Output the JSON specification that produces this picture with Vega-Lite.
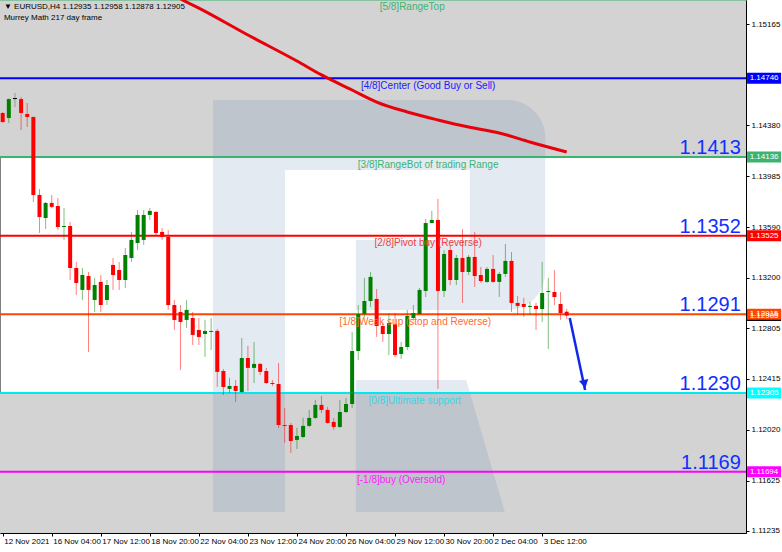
{
  "$schema": "https://vega.github.io/schema/vega-lite/v6.json",
  "width": 746,
  "height": 533,
  "autosize": {"type": "none"},
  "padding": {"left": 0, "top": 0, "right": 36, "bottom": 19},
  "background": "#ffffff",
  "config": {"font": "Liberation Sans", "view": {"stroke": "#808080", "strokeWidth": 1}, "scale": {"continuousPadding": 0}},
  "datasets": {
    "bands": [{"p": 1.14136, "p2": 1.153535}, {"p": 1.11218, "p2": 1.12305}],
    "wm": [
      {"i": 34.3, "i2": 46.05, "p": 1.14578, "p2": 1.11381},
      {"i": 46.05, "i2": 76.2, "p": 1.14578, "p2": 1.14035},
      {"i": 57.6, "i2": 76.2, "p": 1.13492, "p2": 1.12949}
    ],
    "wmleg": [
      {"p": 1.12405, "i": 57.6, "i2": 75.6},
      {"p": 1.11381, "i": 57.6, "i2": 81.9}
    ],
    "wmbowl": [{"i": 76.2, "i2": 88.5, "p": 1.14578, "p2": 1.12949}],
    "levels": [
      {"p": 1.15357, "lvl": "5/8"},
      {"p": 1.14746, "lvl": "4/8"},
      {"p": 1.14136, "lvl": "3/8"},
      {"p": 1.13525, "lvl": "2/8"},
      {"p": 1.12915, "lvl": "1/8"},
      {"p": 1.12305, "lvl": "0/8"},
      {"p": 1.11694, "lvl": "-1/8"}
    ],
    "lvltext": [
      {"i": 66.8, "p": 1.15299, "lvl": "5/8", "t": "[5/8]RangeTop"},
      {"i": 69.4, "p": 1.14686, "lvl": "4/8", "t": "[4/8]Center (Good Buy or Sell)"},
      {"i": 69.4, "p": 1.14073, "lvl": "3/8", "t": "[3/8]RangeBot of trading Range"},
      {"i": 69.4, "p": 1.13468, "lvl": "2/8", "t": "[2/8]Pivot buy (Reverse)"},
      {"i": 67.3, "p": 1.12855, "lvl": "1/8", "t": "[1/8]Weak sup (stop and Reverse)"},
      {"i": 67.2, "p": 1.12243, "lvl": "0/8", "t": "[0/8]Ultimate support"},
      {"i": 65.0, "p": 1.1163, "lvl": "-1/8", "t": "[-1/8]buy (Oversold)"}
    ],
    "bignum": [
      {"p": 1.14136, "t": "1.1413"},
      {"p": 1.13525, "t": "1.1352"},
      {"p": 1.12915, "t": "1.1291"},
      {"p": 1.12305, "t": "1.1230"},
      {"p": 1.11694, "t": "1.1169"}
    ],
    "boxes": [
      {"p": 1.12905, "t": "1.12905", "lvl": "cur"},
      {"p": 1.14746, "t": "1.14746", "lvl": "4/8"},
      {"p": 1.14136, "t": "1.14136", "lvl": "3/8"},
      {"p": 1.13525, "t": "1.13525", "lvl": "2/8"},
      {"p": 1.12915, "t": "1.12915", "lvl": "1/8"},
      {"p": 1.12305, "t": "1.12305", "lvl": "0/8"},
      {"p": 1.11694, "t": "1.11694", "lvl": "-1/8"}
    ],
    "ma": [
      {"i": 28, "p": 1.15392}, {"i": 29.5, "p": 1.1535}, {"i": 32, "p": 1.15291},
      {"i": 40, "p": 1.15082}, {"i": 48, "p": 1.1488}, {"i": 52, "p": 1.14772},
      {"i": 57, "p": 1.14655}, {"i": 61, "p": 1.14562}, {"i": 66, "p": 1.14485},
      {"i": 71, "p": 1.14423}, {"i": 76, "p": 1.14368}, {"i": 81, "p": 1.14322},
      {"i": 86, "p": 1.14252}, {"i": 92, "p": 1.14174}
    ],
    "arrow": [{"i": 92.5, "p": 1.12886}, {"i": 95.0, "p": 1.12328}],
    "arrowhead": [{"i": 94.9, "p": 1.12374}],
    "title": [
      {"i": 0.2, "p": 1.15299, "t": "▼ EURUSD,H4  1.12935 1.12958 1.12878 1.12905"},
      {"i": 0.2, "p": 1.15214, "t": "Murrey Math 217 day frame"}
    ],
    "candles": [
      {"i":0,"o":1.14477,"h":1.14485,"l":1.14399,"c":1.14407,"d":"down"},
      {"i":1,"o":1.14438,"h":1.14590,"l":1.14399,"c":1.14585,"d":"up"},
      {"i":2,"o":1.14585,"h":1.14632,"l":1.14523,"c":1.14593,"d":"doji"},
      {"i":3,"o":1.14585,"h":1.14601,"l":1.14345,"c":1.14477,"d":"down"},
      {"i":4,"o":1.14469,"h":1.14554,"l":1.14368,"c":1.14446,"d":"down"},
      {"i":5,"o":1.14446,"h":1.14450,"l":1.13786,"c":1.13841,"d":"down"},
      {"i":6,"o":1.13841,"h":1.13887,"l":1.13546,"c":1.13670,"d":"down"},
      {"i":7,"o":1.13662,"h":1.13786,"l":1.13577,"c":1.13779,"d":"up"},
      {"i":8,"o":1.13779,"h":1.13841,"l":1.13740,"c":1.13748,"d":"down"},
      {"i":9,"o":1.13755,"h":1.13817,"l":1.13569,"c":1.13592,"d":"down"},
      {"i":10,"o":1.13592,"h":1.13740,"l":1.13492,"c":1.13600,"d":"up"},
      {"i":11,"o":1.13600,"h":1.13631,"l":1.13181,"c":1.13274,"d":"down"},
      {"i":12,"o":1.13274,"h":1.13321,"l":1.13065,"c":1.13158,"d":"down"},
      {"i":13,"o":1.13104,"h":1.13274,"l":1.13026,"c":1.13220,"d":"up"},
      {"i":14,"o":1.13212,"h":1.13243,"l":1.12623,"c":1.13104,"d":"down"},
      {"i":15,"o":1.13026,"h":1.13197,"l":1.12933,"c":1.13142,"d":"up"},
      {"i":16,"o":1.13166,"h":1.13220,"l":1.12933,"c":1.12987,"d":"down"},
      {"i":17,"o":1.13026,"h":1.13181,"l":1.12987,"c":1.13142,"d":"up"},
      {"i":18,"o":1.13298,"h":1.13352,"l":1.13104,"c":1.13220,"d":"down"},
      {"i":19,"o":1.13259,"h":1.13321,"l":1.13104,"c":1.13181,"d":"down"},
      {"i":20,"o":1.13181,"h":1.13430,"l":1.13119,"c":1.13375,"d":"up"},
      {"i":21,"o":1.13352,"h":1.13554,"l":1.13321,"c":1.13492,"d":"up"},
      {"i":22,"o":1.13468,"h":1.13724,"l":1.13414,"c":1.13686,"d":"up"},
      {"i":23,"o":1.13492,"h":1.13724,"l":1.13453,"c":1.13686,"d":"up"},
      {"i":24,"o":1.13686,"h":1.13740,"l":1.13647,"c":1.13717,"d":"up"},
      {"i":25,"o":1.13709,"h":1.13717,"l":1.13523,"c":1.13546,"d":"down"},
      {"i":26,"o":1.13554,"h":1.13585,"l":1.13492,"c":1.13515,"d":"down"},
      {"i":27,"o":1.13515,"h":1.13569,"l":1.12949,"c":1.12987,"d":"down"},
      {"i":28,"o":1.12987,"h":1.13026,"l":1.12793,"c":1.12871,"d":"down"},
      {"i":29,"o":1.12933,"h":1.12987,"l":1.12483,"c":1.12855,"d":"down"},
      {"i":30,"o":1.12871,"h":1.13026,"l":1.12809,"c":1.12949,"d":"up"},
      {"i":31,"o":1.12886,"h":1.12933,"l":1.12677,"c":1.12755,"d":"down"},
      {"i":32,"o":1.12793,"h":1.12886,"l":1.12677,"c":1.12739,"d":"down"},
      {"i":33,"o":1.12762,"h":1.12871,"l":1.12584,"c":1.12786,"d":"up"},
      {"i":34,"o":1.12778,"h":1.12886,"l":1.12638,"c":1.12786,"d":"up"},
      {"i":35,"o":1.12786,"h":1.12801,"l":1.12351,"c":1.12468,"d":"down"},
      {"i":36,"o":1.12475,"h":1.12491,"l":1.12289,"c":1.12351,"d":"down"},
      {"i":37,"o":1.12336,"h":1.12421,"l":1.12305,"c":1.12359,"d":"up"},
      {"i":38,"o":1.12359,"h":1.12405,"l":1.12235,"c":1.12320,"d":"down"},
      {"i":39,"o":1.12312,"h":1.12731,"l":1.12305,"c":1.12576,"d":"up"},
      {"i":40,"o":1.12576,"h":1.12669,"l":1.12320,"c":1.12499,"d":"down"},
      {"i":41,"o":1.12499,"h":1.12700,"l":1.12382,"c":1.12530,"d":"up"},
      {"i":42,"o":1.12530,"h":1.12537,"l":1.12444,"c":1.12468,"d":"down"},
      {"i":43,"o":1.12475,"h":1.12499,"l":1.12374,"c":1.12382,"d":"down"},
      {"i":44,"o":1.12382,"h":1.12405,"l":1.12359,"c":1.12374,"d":"down"},
      {"i":45,"o":1.12374,"h":1.12537,"l":1.12033,"c":1.12056,"d":"down"},
      {"i":46,"o":1.12056,"h":1.12188,"l":1.11917,"c":1.12049,"d":"down"},
      {"i":47,"o":1.12056,"h":1.12072,"l":1.11839,"c":1.11932,"d":"down"},
      {"i":48,"o":1.11940,"h":1.12033,"l":1.11870,"c":1.11971,"d":"up"},
      {"i":49,"o":1.11963,"h":1.12111,"l":1.11956,"c":1.12049,"d":"up"},
      {"i":50,"o":1.12049,"h":1.12173,"l":1.12041,"c":1.12111,"d":"up"},
      {"i":51,"o":1.12111,"h":1.12250,"l":1.12103,"c":1.12212,"d":"up"},
      {"i":52,"o":1.12212,"h":1.12281,"l":1.12149,"c":1.12173,"d":"down"},
      {"i":53,"o":1.12173,"h":1.12196,"l":1.12068,"c":1.12072,"d":"down"},
      {"i":54,"o":1.12080,"h":1.12111,"l":1.12018,"c":1.12041,"d":"down"},
      {"i":55,"o":1.12041,"h":1.12250,"l":1.12033,"c":1.12157,"d":"up"},
      {"i":56,"o":1.12157,"h":1.12266,"l":1.12149,"c":1.12219,"d":"up"},
      {"i":57,"o":1.12219,"h":1.12778,"l":1.12188,"c":1.12630,"d":"up"},
      {"i":58,"o":1.12630,"h":1.12987,"l":1.12561,"c":1.12917,"d":"up"},
      {"i":59,"o":1.12917,"h":1.13197,"l":1.12894,"c":1.13018,"d":"up"},
      {"i":60,"o":1.13018,"h":1.13243,"l":1.12972,"c":1.13205,"d":"up"},
      {"i":61,"o":1.13034,"h":1.13111,"l":1.12739,"c":1.12824,"d":"down"},
      {"i":62,"o":1.12824,"h":1.12848,"l":1.12700,"c":1.12762,"d":"down"},
      {"i":63,"o":1.12762,"h":1.12925,"l":1.12599,"c":1.12848,"d":"up"},
      {"i":64,"o":1.12840,"h":1.12925,"l":1.12584,"c":1.12599,"d":"down"},
      {"i":65,"o":1.12607,"h":1.12700,"l":1.12568,"c":1.12661,"d":"up"},
      {"i":66,"o":1.12661,"h":1.12949,"l":1.12638,"c":1.12902,"d":"up"},
      {"i":67,"o":1.12886,"h":1.12987,"l":1.12871,"c":1.12925,"d":"up"},
      {"i":68,"o":1.12917,"h":1.13119,"l":1.12910,"c":1.13104,"d":"up"},
      {"i":69,"o":1.13096,"h":1.13654,"l":1.13049,"c":1.13623,"d":"up"},
      {"i":70,"o":1.13623,"h":1.13717,"l":1.13621,"c":1.13647,"d":"up"},
      {"i":71,"o":1.13647,"h":1.13810,"l":1.12336,"c":1.13096,"d":"down"},
      {"i":72,"o":1.13096,"h":1.13414,"l":1.13049,"c":1.13383,"d":"up"},
      {"i":73,"o":1.13414,"h":1.13453,"l":1.13142,"c":1.13181,"d":"down"},
      {"i":74,"o":1.13181,"h":1.13375,"l":1.13142,"c":1.13352,"d":"up"},
      {"i":75,"o":1.13352,"h":1.13577,"l":1.13003,"c":1.13243,"d":"down"},
      {"i":76,"o":1.13243,"h":1.13375,"l":1.13220,"c":1.13360,"d":"up"},
      {"i":77,"o":1.13360,"h":1.13554,"l":1.13127,"c":1.13212,"d":"down"},
      {"i":78,"o":1.13220,"h":1.13282,"l":1.13158,"c":1.13173,"d":"down"},
      {"i":79,"o":1.13166,"h":1.13282,"l":1.13158,"c":1.13267,"d":"up"},
      {"i":80,"o":1.13267,"h":1.13375,"l":1.13158,"c":1.13166,"d":"down"},
      {"i":81,"o":1.13166,"h":1.13243,"l":1.13049,"c":1.13228,"d":"up"},
      {"i":82,"o":1.13228,"h":1.13461,"l":1.13205,"c":1.13329,"d":"up"},
      {"i":83,"o":1.13329,"h":1.13398,"l":1.12933,"c":1.13003,"d":"down"},
      {"i":84,"o":1.13003,"h":1.13057,"l":1.12910,"c":1.12980,"d":"down"},
      {"i":85,"o":1.12995,"h":1.13042,"l":1.12894,"c":1.12972,"d":"down"},
      {"i":86,"o":1.12972,"h":1.13011,"l":1.12910,"c":1.12980,"d":"up"},
      {"i":87,"o":1.12980,"h":1.13003,"l":1.12793,"c":1.12956,"d":"down"},
      {"i":88,"o":1.12956,"h":1.13321,"l":1.12855,"c":1.13080,"d":"up"},
      {"i":89,"o":1.13088,"h":1.13197,"l":1.12646,"c":1.13096,"d":"up"},
      {"i":90,"o":1.13088,"h":1.13259,"l":1.12987,"c":1.13049,"d":"down"},
      {"i":91,"o":1.12995,"h":1.13088,"l":1.12871,"c":1.12925,"d":"down"},
      {"i":92,"o":1.12935,"h":1.12958,"l":1.12878,"c":1.12905,"d":"down"}
    ]
  },
  "resolve": {"scale": {"color": "independent"}},
  "layer": [
    {
      "data": {"name": "bands"},
      "mark": {"type": "rect", "color": "#d3d3d3"},
      "encoding": {
        "y": {"field": "p", "type": "quantitative", "title": null,
          "scale": {"domain": [1.11218, 1.153535], "nice": false, "zero": false, "padding": 0},
          "axis": {"orient": "right", "title": null, "grid": false,
            "values": [1.15165, 1.14965, 1.1477, 1.14575, 1.1438, 1.1418, 1.13985, 1.1379, 1.1359, 1.13395, 1.132, 1.13005, 1.12805, 1.1261, 1.12415, 1.12215, 1.1202, 1.11825, 1.11625, 1.1143, 1.11235],
            "format": ".5f", "labelFontSize": 8, "labelColor": "#000000", "tickSize": 3, "tickColor": "#000000",
            "domainColor": "#000000", "labelPadding": 2, "labelFont": "Liberation Sans", "labelFlush": false, "labelOverlap": false}},
        "y2": {"field": "p2"},
        "x": {"datum": -0.44, "type": "quantitative", "title": null,
          "scale": {"domain": [-0.44, 121.25], "nice": false, "zero": false, "padding": 0},
          "axis": {"orient": "bottom", "title": null, "grid": false,
            "values": [0, 8, 16, 24, 32, 40, 48, 56, 64, 72, 80, 88],
            "labelExpr": "['12 Nov 2021','16 Nov 04:00','17 Nov 12:00','18 Nov 20:00','22 Nov 04:00','23 Nov 12:00','24 Nov 20:00','26 Nov 04:00','29 Nov 12:00','30 Nov 20:00','2 Dec 04:00','3 Dec 12:00'][datum.value/8]",
            "labelAlign": "left", "labelFontSize": 8, "labelColor": "#000000", "labelFont": "Liberation Sans",
            "tickSize": 3, "tickColor": "#000000", "domainColor": "#000000", "labelPadding": 1, "labelOffset": 1,
            "labelFlush": false, "labelOverlap": false}},
        "x2": {"datum": 121.25}
      }
    },
    {
      "data": {"name": "wm"},
      "mark": {"type": "rect", "color": "#5a7aa8", "opacity": 0.16},
      "encoding": {
        "x": {"field": "i", "type": "quantitative", "title": null},
        "x2": {"field": "i2"},
        "y": {"field": "p", "type": "quantitative", "title": null},
        "y2": {"field": "p2"}
      }
    },
    {
      "data": {"name": "wmleg"},
      "mark": {"type": "area", "orient": "horizontal", "color": "#5a7aa8", "opacity": 0.16},
      "encoding": {
        "y": {"field": "p", "type": "quantitative", "title": null},
        "x": {"field": "i", "type": "quantitative", "title": null},
        "x2": {"field": "i2"}
      }
    },
    {
      "data": {"name": "wmbowl"},
      "mark": {"type": "rect", "color": "#5a7aa8", "opacity": 0.16, "cornerRadiusTopRight": 45, "cornerRadiusBottomRight": 45},
      "encoding": {
        "x": {"field": "i", "type": "quantitative", "title": null},
        "x2": {"field": "i2"},
        "y": {"field": "p", "type": "quantitative", "title": null},
        "y2": {"field": "p2"}
      }
    },
    {
      "data": {"name": "levels"},
      "mark": {"type": "rule", "strokeWidth": 2},
      "encoding": {
        "y": {"field": "p", "type": "quantitative", "title": null},
        "color": {"field": "lvl", "type": "nominal", "legend": null,
          "scale": {"domain": ["5/8", "4/8", "3/8", "2/8", "1/8", "0/8", "-1/8"],
            "range": ["#3cb371", "#0000ff", "#3cb371", "#ff0000", "#ff4500", "#00e8f0", "#ff00ff"]}}
      }
    },
    {
      "data": {"name": "ma"},
      "mark": {"type": "line", "color": "#e8000b", "strokeWidth": 3, "clip": true, "interpolate": "monotone"},
      "encoding": {
        "x": {"field": "i", "type": "quantitative", "title": null},
        "y": {"field": "p", "type": "quantitative", "title": null}
      }
    },
    {
      "data": {"name": "candles"},
      "mark": {"type": "rule", "strokeWidth": 1, "opacity": 0.5},
      "encoding": {
        "x": {"field": "i", "type": "quantitative", "title": null},
        "y": {"field": "l", "type": "quantitative", "title": null},
        "y2": {"field": "h"},
        "color": {"field": "d", "type": "nominal", "legend": null,
          "scale": {"domain": ["up", "down", "doji"], "range": ["#008000", "#ff0000", "#606060"]}}
      }
    },
    {
      "data": {"name": "candles"},
      "mark": {"type": "bar", "width": 4},
      "encoding": {
        "x": {"field": "i", "type": "quantitative", "title": null},
        "y": {"field": "o", "type": "quantitative", "title": null},
        "y2": {"field": "c"},
        "color": {"field": "d", "type": "nominal", "legend": null,
          "scale": {"domain": ["up", "down", "doji"], "range": ["#008000", "#ff0000", "#000000"]}}
      }
    },
    {
      "data": {"name": "arrow"},
      "mark": {"type": "line", "color": "#1028e8", "strokeWidth": 2.5},
      "encoding": {
        "x": {"field": "i", "type": "quantitative", "title": null},
        "y": {"field": "p", "type": "quantitative", "title": null}
      }
    },
    {
      "data": {"name": "arrowhead"},
      "mark": {"type": "point", "shape": "triangle-down", "filled": true, "color": "#1028e8", "size": 90, "angle": 348, "opacity": 1},
      "encoding": {
        "x": {"field": "i", "type": "quantitative", "title": null},
        "y": {"field": "p", "type": "quantitative", "title": null}
      }
    },
    {
      "data": {"name": "lvltext"},
      "mark": {"type": "text", "fontSize": 10, "align": "center", "baseline": "middle"},
      "encoding": {
        "x": {"field": "i", "type": "quantitative", "title": null},
        "y": {"field": "p", "type": "quantitative", "title": null},
        "text": {"field": "t"},
        "color": {"field": "lvl", "type": "nominal", "legend": null,
          "scale": {"domain": ["5/8", "4/8", "3/8", "2/8", "1/8", "0/8", "-1/8"],
            "range": ["#3cb371", "#2020ff", "#3cb371", "#f04040", "#ff6a30", "#30d8e8", "#ff20ff"]}}
      }
    },
    {
      "data": {"name": "bignum"},
      "mark": {"type": "text", "fontSize": 20, "align": "right", "baseline": "alphabetic", "dy": -3, "color": "#1030ff"},
      "encoding": {
        "x": {"datum": 120.4, "type": "quantitative"},
        "y": {"field": "p", "type": "quantitative", "title": null},
        "text": {"field": "t"}
      }
    },
    {
      "data": {"name": "boxes"},
      "mark": {"type": "tick", "orient": "horizontal", "size": 34, "thickness": 11, "opacity": 1},
      "encoding": {
        "x": {"datum": 124.2, "type": "quantitative"},
        "y": {"field": "p", "type": "quantitative", "title": null},
        "color": {"field": "lvl", "type": "nominal", "legend": null,
          "scale": {"domain": ["cur", "4/8", "3/8", "2/8", "1/8", "0/8", "-1/8"],
            "range": ["#000000", "#0000ff", "#3cb371", "#ff0000", "#ff4500", "#00ffff", "#ff00ff"]}}
      }
    },
    {
      "data": {"name": "boxes"},
      "mark": {"type": "text", "fontSize": 8, "font": "Liberation Sans", "align": "center", "baseline": "middle", "color": "#ffffff"},
      "encoding": {
        "x": {"datum": 124.2, "type": "quantitative"},
        "y": {"field": "p", "type": "quantitative", "title": null},
        "text": {"field": "t"}
      }
    },
    {
      "data": {"name": "title"},
      "mark": {"type": "text", "fontSize": 8, "font": "Liberation Sans", "align": "left", "baseline": "middle", "color": "#000000"},
      "encoding": {
        "x": {"field": "i", "type": "quantitative", "title": null},
        "y": {"field": "p", "type": "quantitative", "title": null},
        "text": {"field": "t"}
      }
    }
  ]
}
